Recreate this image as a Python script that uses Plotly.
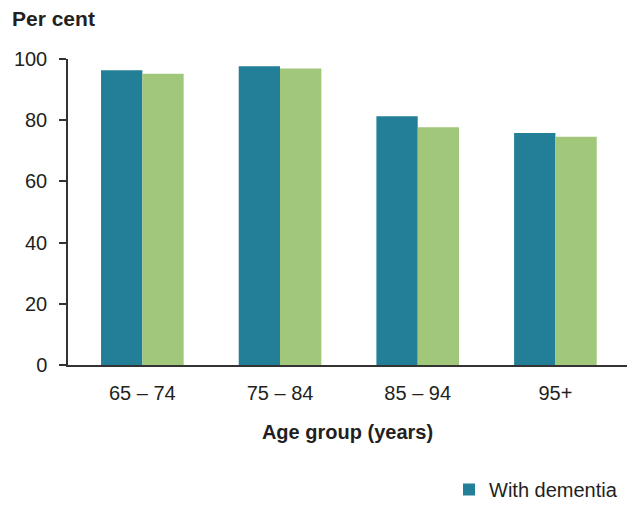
import plotly.graph_objects as go

categories = ["65 – 74", "75 – 84", "85 – 94", "95+"]
with_dementia = [96.3, 97.6, 81.3, 75.8]
without_dementia = [95.2, 96.9, 77.7, 74.6]
y_ticks = [0, 20, 40, 60, 80, 100]

TEAL = "#237E97"
GREEN = "#A1C77A"
TXT = "#231F20"
FONT = "Liberation Sans, Arial, sans-serif"

PW, PH = 559, 306  # plot area size in px

fig = go.Figure()
fig.add_trace(go.Bar(x=categories, y=with_dementia, name="With dementia",
                     marker=dict(color=TEAL, line=dict(width=0))))
fig.add_trace(go.Bar(x=categories, y=without_dementia, name="Without dementia",
                     marker=dict(color=GREEN, line=dict(width=0)), showlegend=False))

fig.update_layout(
    width=627, height=505,
    margin=dict(l=68, r=0, t=59, b=140, autoexpand=False),
    paper_bgcolor="white", plot_bgcolor="white",
    barmode="group", bargap=0.4, bargroupgap=0,
    font=dict(family=FONT, size=20, color=TXT),
    showlegend=True,
    legend=dict(orientation="h", xref="paper", yref="paper",
                x=(623 - 68) / PW, xanchor="right", y=-(470 - 365) / PH, yanchor="top",
                font=dict(size=20, color=TXT), bgcolor="rgba(0,0,0,0)"),
    annotations=[dict(text="<b>Per cent</b>", xref="paper", yref="paper",
                      x=-58 / PW, y=1 + 41 / PH, xanchor="left", yanchor="middle",
                      showarrow=False, font=dict(size=21, color=TXT))],
)
fig.update_xaxes(
    showline=True, linecolor="#333333", linewidth=1.5,
    ticks="", showgrid=False, tickfont=dict(size=20, color=TXT),
    ticklabelstandoff=9,
    title=dict(text="<b>Age group (years)</b>", font=dict(size=20, color=TXT), standoff=22),
    range=[-0.54, 3.52],
)
fig.update_yaxes(
    range=[0, 100], tickvals=y_ticks, showgrid=False, zeroline=False,
    showline=True, linecolor="#333333", linewidth=1.5,
    ticks="outside", ticklen=7, tickcolor="#333333", tickwidth=1.5,
    tickfont=dict(size=20, color=TXT), ticklabelstandoff=8,
)

fig.write_html("out.html")
